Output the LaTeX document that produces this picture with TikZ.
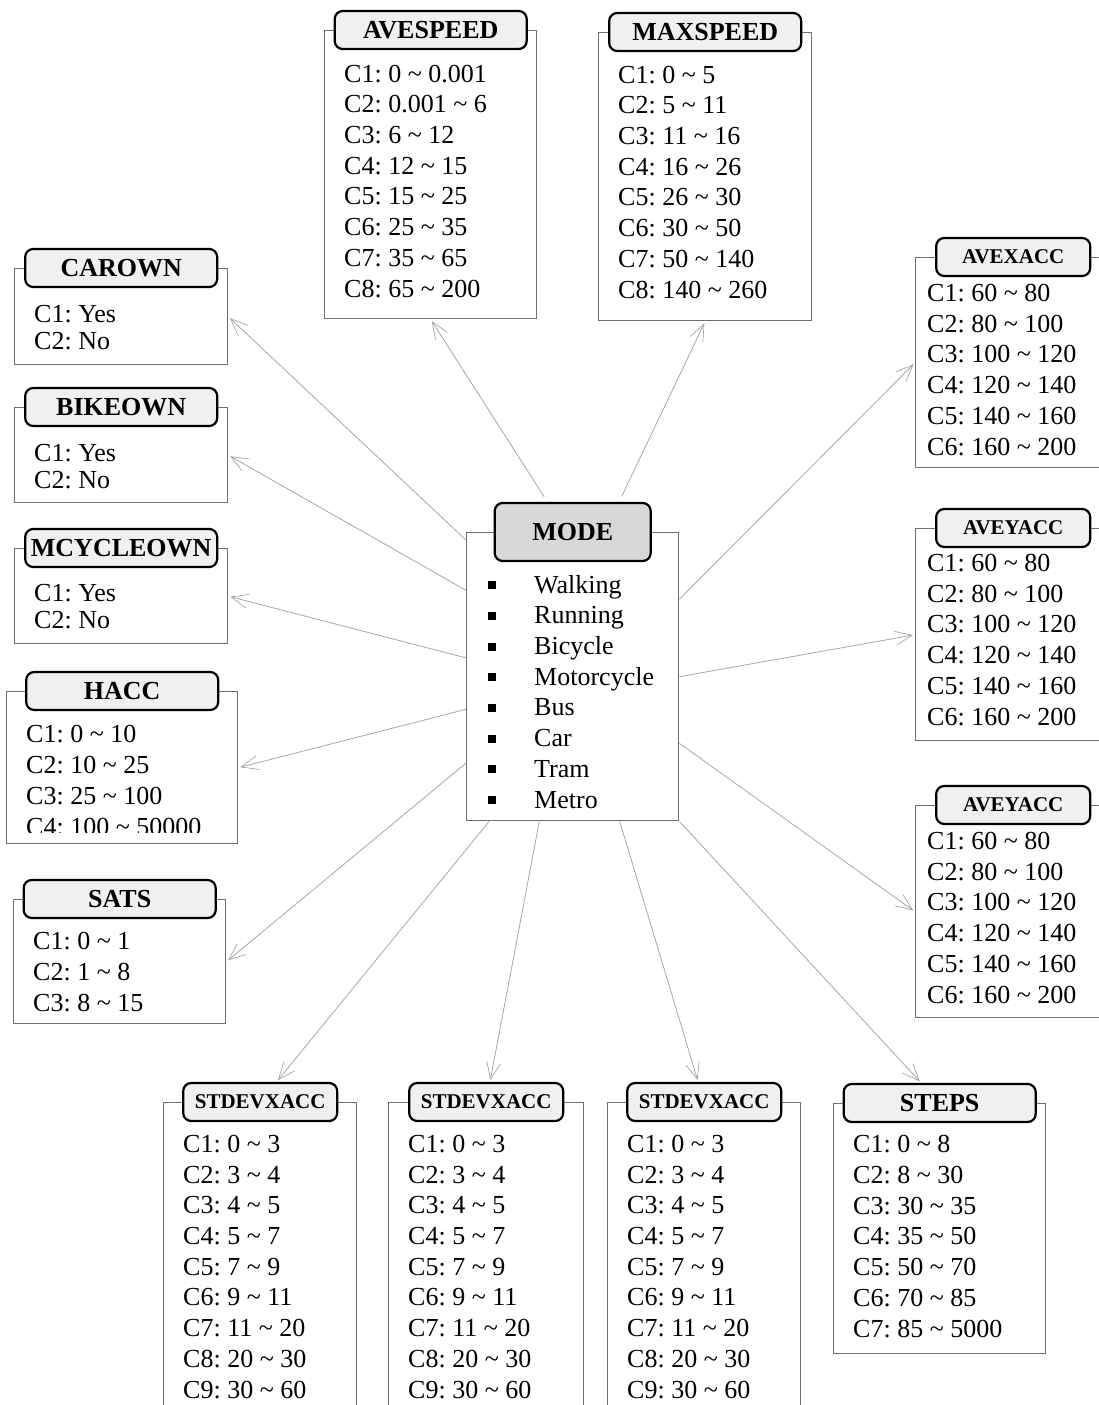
\documentclass[tikz,border=0pt]{standalone}
\usepackage{fontspec}
\setmainfont{Liberation Serif}
\usepackage{tikz}
\usetikzlibrary{arrows.meta, positioning}
\definecolor{boxgray}{HTML}{6E6E6E}
\definecolor{headfill}{HTML}{F0F0F0}
\definecolor{modefill}{HTML}{D8D8D8}
\definecolor{linkgray}{HTML}{A6A6A6}
\newcommand{\tld}{\textasciitilde}
\newcommand{\bul}{\makebox[46pt][l]{\rule[4pt]{8pt}{8pt}}}
\frenchspacing

\begin{document}
\begin{tikzpicture}[
    x=1pt, y=-1pt,
    every node/.style={font=\fontsize{26}{30.7}\selectfont},
    catbox/.style={draw=boxgray, line width=1.4pt, anchor=north west, inner sep=0pt},
    cathead/.style={draw=black, fill=headfill, rounded corners=8pt, line width=2.2pt, minimum width=192pt, minimum height=38pt, inner sep=0pt, font=\fontsize{26}{30}\selectfont\bfseries},
    smallhead/.style={cathead, minimum width=154pt, font=\fontsize{21}{24}\selectfont\bfseries},
    catlist/.style={anchor=base west, align=left, inner sep=0pt},
    yesno/.style={catlist, font=\fontsize{26}{26.5}\selectfont},
    link/.style={draw=linkgray, line width=0.8pt, -{Straight Barb[length=17pt, width=14pt, line width=0.7pt]}, shorten >=2pt}
]
    \useasboundingbox (0,0) rectangle (1099,1405);
    \clip (0,0) rectangle (1099,1405);

    % centre: mode (lists are placed at the baseline of their last line)
    \node[catbox, minimum width=212pt, minimum height=288pt] (mode) at (466,532) {};
    \node[cathead, fill=modefill, minimum width=156pt, minimum height=58pt] (modehead) at (mode.north) {MODE};
    \node[catlist] (modelist) at (488,808) {\bul Walking\\ \bul Running\\ \bul Bicycle\\ \bul Motorcycle\\ \bul Bus\\ \bul Car\\ \bul Tram\\ \bul Metro};

    % top
    \node[catbox, minimum width=212pt, minimum height=288pt] (avespeed) at (324,30) {};
    \node[cathead] (avespeedhead) at (avespeed.north) {AVESPEED};
    \node[catlist] (avespeedlist) at (344,297) {C1: 0 \tld{} 0.001\\ C2: 0.001 \tld{} 6\\ C3: 6 \tld{} 12\\ C4: 12 \tld{} 15\\ C5: 15 \tld{} 25\\ C6: 25 \tld{} 35\\ C7: 35 \tld{} 65\\ C8: 65 \tld{} 200};

    \node[catbox, minimum width=213pt, minimum height=288pt] (maxspeed) at (598,32) {};
    \node[cathead] (maxspeedhead) at (maxspeed.north) {MAXSPEED};
    \node[catlist] (maxspeedlist) at (618,298) {C1: 0 \tld{} 5\\ C2: 5 \tld{} 11\\ C3: 11 \tld{} 16\\ C4: 16 \tld{} 26\\ C5: 26 \tld{} 30\\ C6: 30 \tld{} 50\\ C7: 50 \tld{} 140\\ C8: 140 \tld{} 260};

    % left
    \node[catbox, minimum width=213pt, minimum height=96pt] (carown) at (14,268) {};
    \node[cathead] (carownhead) at (carown.north) {CAROWN};
    \node[yesno] (carownlist) at (34,349) {C1: Yes\\ C2: No};

    \node[catbox, minimum width=213pt, minimum height=95pt] (bikeown) at (14,407) {};
    \node[cathead] (bikeownhead) at (bikeown.north) {BIKEOWN};
    \node[yesno] (bikeownlist) at (34,488) {C1: Yes\\ C2: No};

    \node[catbox, minimum width=213pt, minimum height=95pt] (mcycleown) at (14,548) {};
    \node[cathead] (mcycleownhead) at (mcycleown.north) {MCYCLEOWN};
    \node[yesno] (mcycleownlist) at (34,628) {C1: Yes\\ C2: No};

    \node[catbox, minimum width=231pt, minimum height=152pt] (hacc) at (6,691) {};
    \node[cathead] (hacchead) at (hacc.north) {HACC};
    \begin{scope}
        \clip (6,691) rectangle (237,832);
        \node[catlist] (hacclist) at (26,835) {C1: 0 \tld{} 10\\ C2: 10 \tld{} 25\\ C3: 25 \tld{} 100\\ C4: 100 \tld{} 50000};
    \end{scope}

    \node[catbox, minimum width=212pt, minimum height=124pt] (sats) at (13,899) {};
    \node[cathead] (satshead) at (sats.north) {SATS};
    \node[catlist] (satslist) at (33,1011) {C1: 0 \tld{} 1\\ C2: 1 \tld{} 8\\ C3: 8 \tld{} 15};

    % right
    \node[catbox, minimum width=195pt, minimum height=210pt] (avexacc) at (915,257) {};
    \node[smallhead] (avexacchead) at (avexacc.north) {AVEXACC};
    \node[catlist] (avexacclist) at (927,455) {C1: 60 \tld{} 80\\ C2: 80 \tld{} 100\\ C3: 100 \tld{} 120\\ C4: 120 \tld{} 140\\ C5: 140 \tld{} 160\\ C6: 160 \tld{} 200};

    \node[catbox, minimum width=195pt, minimum height=212pt] (aveyacca) at (915,528) {};
    \node[smallhead] (aveyaccahead) at (aveyacca.north) {AVEYACC};
    \node[catlist] (aveyaccalist) at (927,725) {C1: 60 \tld{} 80\\ C2: 80 \tld{} 100\\ C3: 100 \tld{} 120\\ C4: 120 \tld{} 140\\ C5: 140 \tld{} 160\\ C6: 160 \tld{} 200};

    \node[catbox, minimum width=195pt, minimum height=212pt] (aveyaccb) at (915,805) {};
    \node[smallhead] (aveyaccbhead) at (aveyaccb.north) {AVEYACC};
    \node[catlist] (aveyaccblist) at (927,1003) {C1: 60 \tld{} 80\\ C2: 80 \tld{} 100\\ C3: 100 \tld{} 120\\ C4: 120 \tld{} 140\\ C5: 140 \tld{} 160\\ C6: 160 \tld{} 200};

    % bottom
    \node[catbox, minimum width=193pt, minimum height=330pt] (sdxa) at (163,1102) {};
    \node[smallhead] (sdxahead) at (sdxa.north) {STDEVXACC};
    \node[catlist] (sdxalist) at (183,1398) {C1: 0 \tld{} 3\\ C2: 3 \tld{} 4\\ C3: 4 \tld{} 5\\ C4: 5 \tld{} 7\\ C5: 7 \tld{} 9\\ C6: 9 \tld{} 11\\ C7: 11 \tld{} 20\\ C8: 20 \tld{} 30\\ C9: 30 \tld{} 60};

    \node[catbox, minimum width=195pt, minimum height=330pt] (sdxb) at (388,1102) {};
    \node[smallhead] (sdxbhead) at (sdxb.north) {STDEVXACC};
    \node[catlist] (sdxblist) at (408,1398) {C1: 0 \tld{} 3\\ C2: 3 \tld{} 4\\ C3: 4 \tld{} 5\\ C4: 5 \tld{} 7\\ C5: 7 \tld{} 9\\ C6: 9 \tld{} 11\\ C7: 11 \tld{} 20\\ C8: 20 \tld{} 30\\ C9: 30 \tld{} 60};

    \node[catbox, minimum width=193pt, minimum height=330pt] (sdxc) at (607,1102) {};
    \node[smallhead] (sdxchead) at (sdxc.north) {STDEVXACC};
    \node[catlist] (sdxclist) at (627,1398) {C1: 0 \tld{} 3\\ C2: 3 \tld{} 4\\ C3: 4 \tld{} 5\\ C4: 5 \tld{} 7\\ C5: 7 \tld{} 9\\ C6: 9 \tld{} 11\\ C7: 11 \tld{} 20\\ C8: 20 \tld{} 30\\ C9: 30 \tld{} 60};

    \node[catbox, minimum width=212pt, minimum height=250pt] (steps) at (833,1103) {};
    \node[cathead] (stepshead) at (steps.north) {STEPS};
    \node[catlist] (stepslist) at (853,1337) {C1: 0 \tld{} 8\\ C2: 8 \tld{} 30\\ C3: 30 \tld{} 35\\ C4: 35 \tld{} 50\\ C5: 50 \tld{} 70\\ C6: 70 \tld{} 85\\ C7: 85 \tld{} 5000};

    % Arrows
    \draw[link, shorten <=6pt] (modehead.130) -- (avespeed.south);
    \draw[link, shorten <=6pt] (modehead.33) -- (maxspeed.south);
    \draw[link] (mode.128) -- (carown.east);
    \draw[link] (mode.141) -- (bikeown.east);
    \draw[link] (mode.170) -- (mcycleown.east);
    \draw[link] (mode.197) -- (hacc.east);
    \draw[link] (mode.219) -- (sats.east);
    \draw[link] (mode.240) -- (sdxahead);
    \draw[link] (mode.257) -- (sdxbhead);
    \draw[link] (mode.288) -- (sdxchead);
    \draw[link] (mode.south east) -- (stepshead);
    \draw[link] (mode.36) -- (avexacc.west);
    \draw[link] (mode.east) -- (aveyacca.west);
    \draw[link] (mode.328) -- (aveyaccb.west);
\end{tikzpicture}
\end{document}
